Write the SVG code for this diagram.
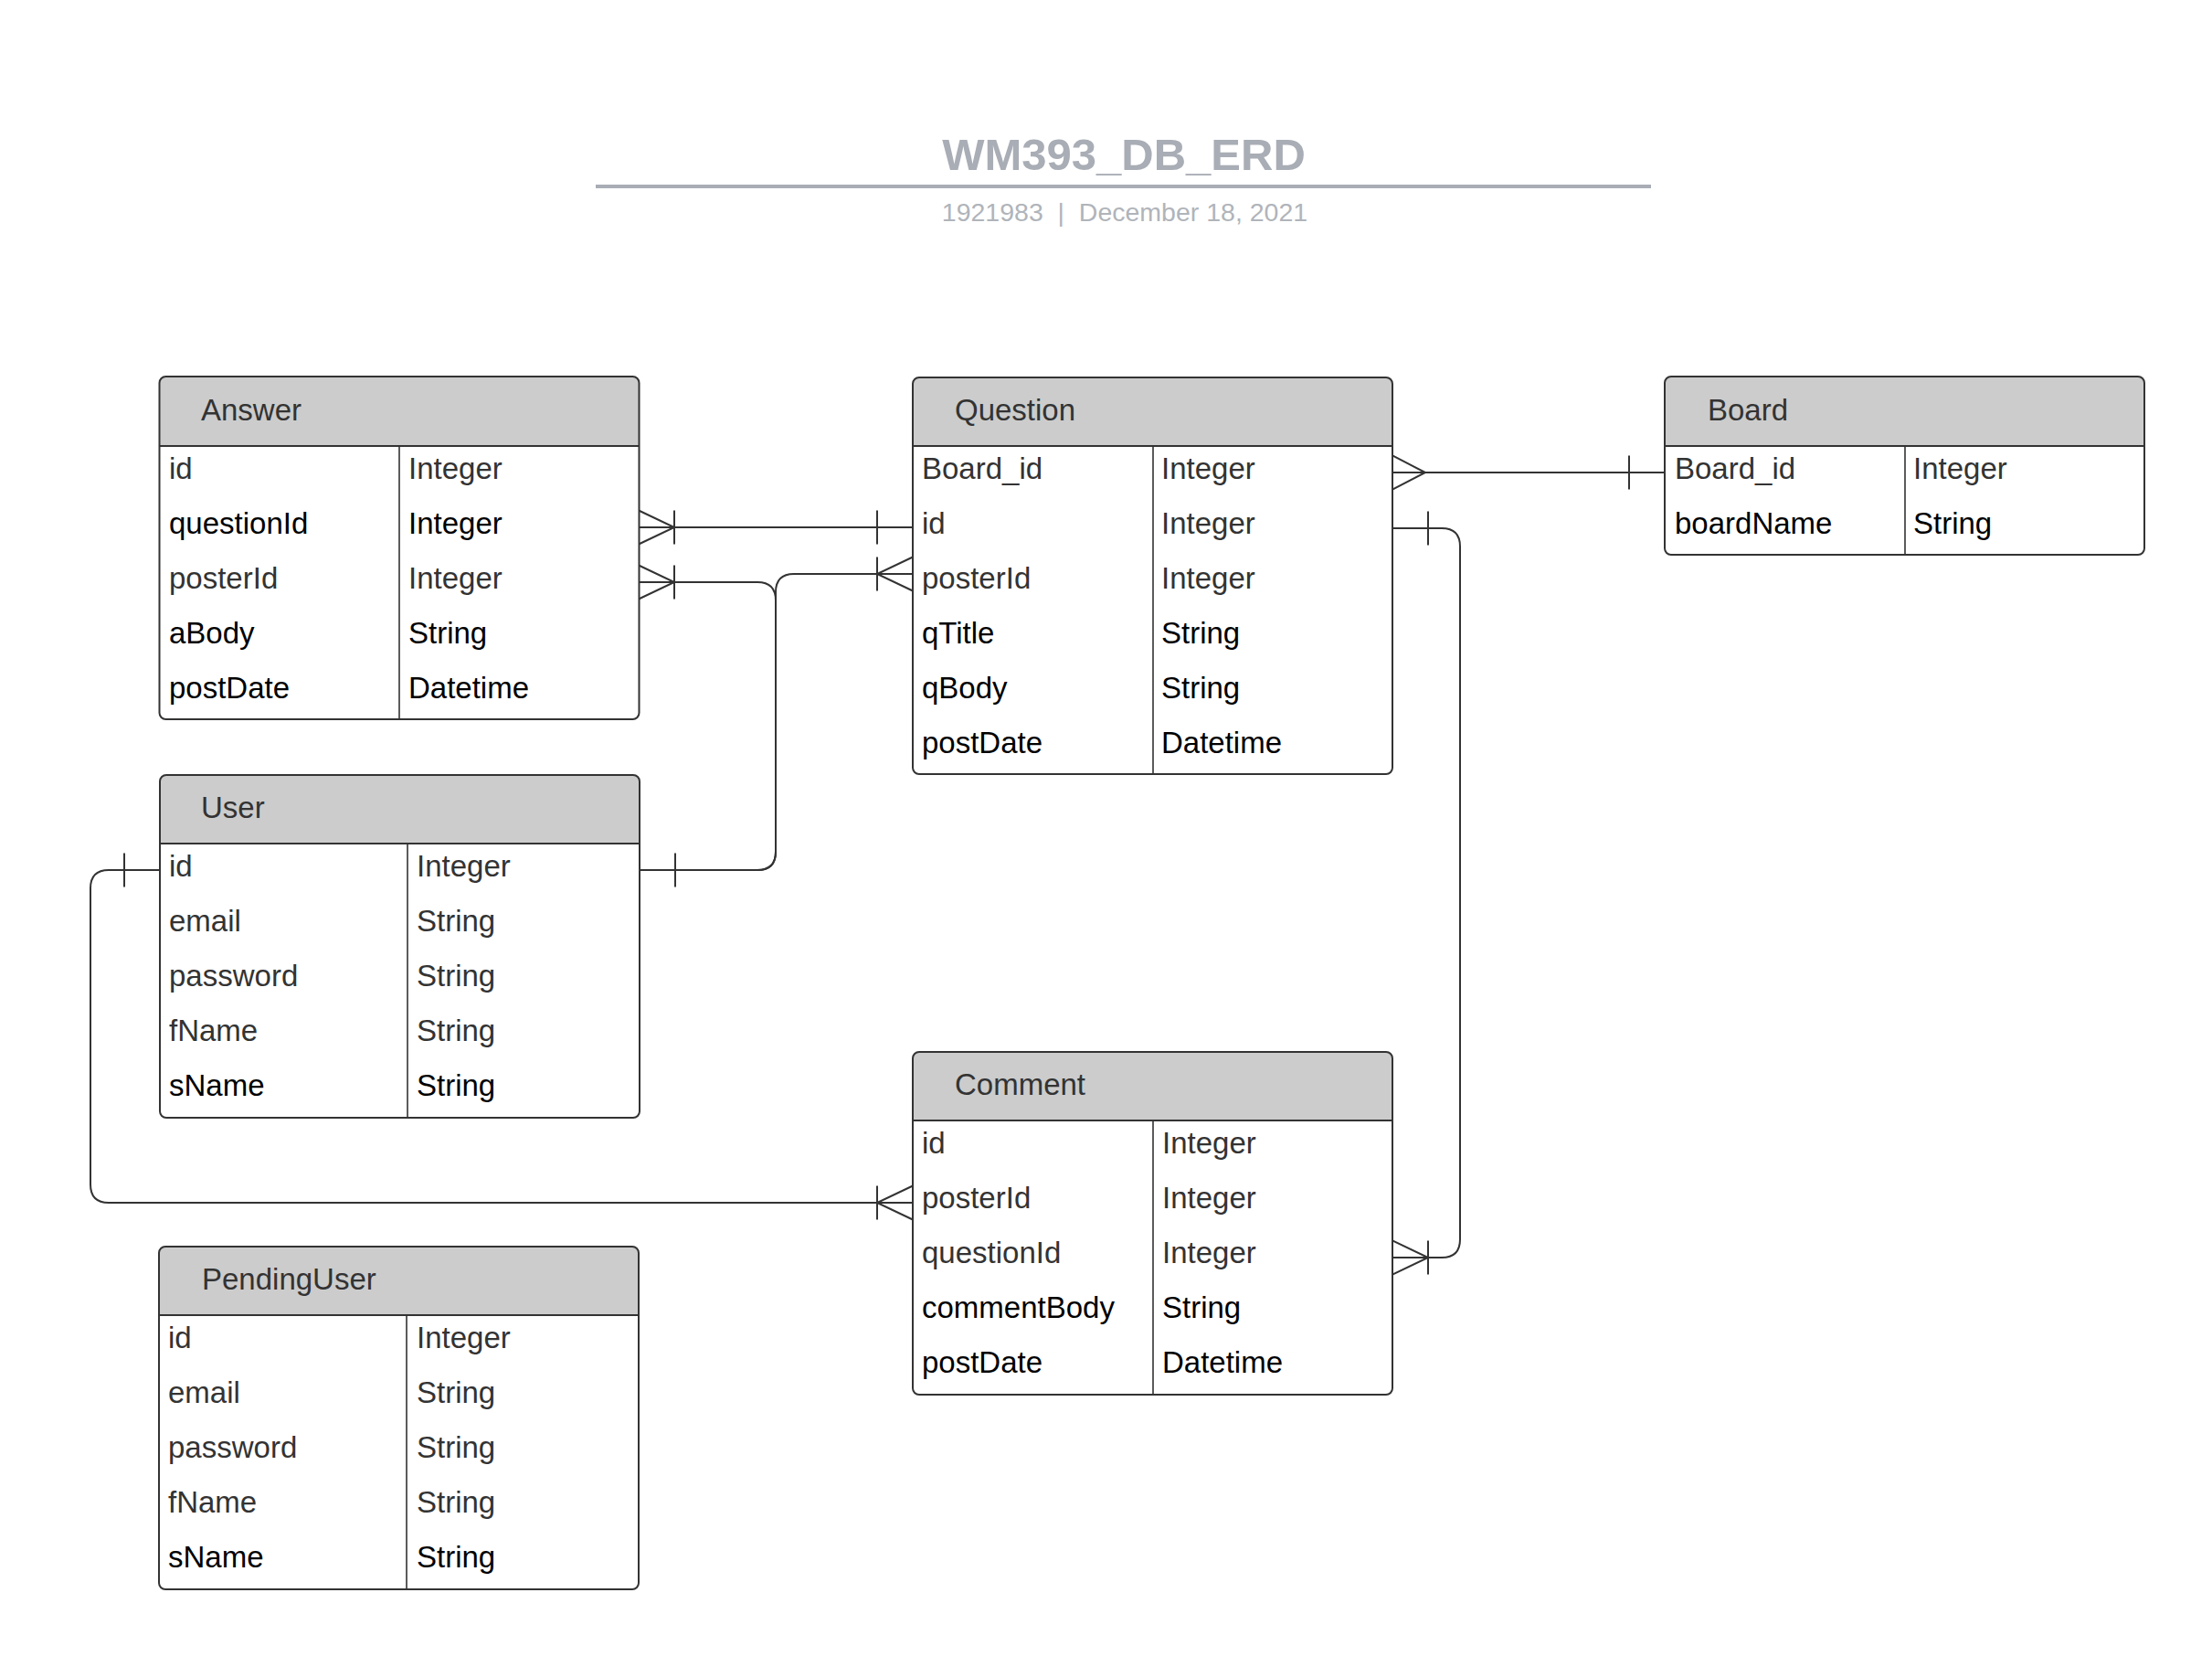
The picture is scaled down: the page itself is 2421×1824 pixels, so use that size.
<svg xmlns="http://www.w3.org/2000/svg" width="2421" height="1824" viewBox="0 0 2421 1824">
<style>
.t{font-family:"Liberation Sans",Arial,sans-serif;font-size:33px;fill:#333}
.k{fill:#000}
.hd{font-family:"Liberation Sans",Arial,sans-serif;font-size:33px;fill:#333}
.box{fill:none;stroke:#333;stroke-width:2}
.bg{fill:#fff}
.hf{fill:#cccccc}
.ln{stroke:#333;stroke-width:2}
.dv{stroke:#333;stroke-width:1.6}
.con{fill:none;stroke:#333;stroke-width:2}
.mk{fill:none;stroke:#333;stroke-width:2}
</style>
<defs>
<marker id="one" markerUnits="userSpaceOnUse" markerWidth="80" markerHeight="60" viewBox="-60 -30 80 60" refX="0" refY="0" orient="auto-start-reverse" overflow="visible">
<path class="mk" d="M -39 -18.5 V 18.5"/>
</marker>
<marker id="crowBar" markerUnits="userSpaceOnUse" markerWidth="80" markerHeight="60" viewBox="-60 -30 80 60" refX="0" refY="0" orient="auto-start-reverse" overflow="visible">
<path class="mk" d="M 0 -18.5 L -39 0 L 0 18.5 M -39 -18.5 V 18.5"/>
</marker>
<marker id="crow" markerUnits="userSpaceOnUse" markerWidth="80" markerHeight="60" viewBox="-60 -30 80 60" refX="0" refY="0" orient="auto-start-reverse" overflow="visible">
<path class="mk" d="M 0 -18.5 L -36 0 L 0 18.5"/>
</marker>
</defs>
<rect width="2421" height="1824" fill="#fff"/>

<g id="title">
<text x="1230" y="186" text-anchor="middle" font-family="Liberation Sans, Arial, sans-serif" font-size="49" font-weight="bold" fill="#a9adb5">WM393_DB_ERD</text>
<line x1="652" y1="204" x2="1807" y2="204" stroke="#a9adb5" stroke-width="4"/>
<text x="1231" y="242" text-anchor="middle" font-family="Liberation Sans, Arial, sans-serif" font-size="28.5" fill="#b0b4ba" xml:space="preserve">1921983  |  December 18, 2021</text>
</g>

<g id="connectors">
<path class="con" d="M 999 577 H 699" marker-start="url(#one)" marker-end="url(#crowBar)"/>
<path class="con" d="M 700 952 H 829 Q 849 952 849 932 V 657 Q 849 637 829 637 H 699" marker-start="url(#one)" marker-end="url(#crowBar)"/>
<path class="con" d="M 700 952 H 829 Q 849 952 849 932 V 648 Q 849 628 869 628 H 999" marker-end="url(#crowBar)"/>
<path class="con" d="M 175 952 H 119 Q 99 952 99 972 V 1296 Q 99 1316 119 1316 H 999" marker-start="url(#one)" marker-end="url(#crowBar)"/>
<path class="con" d="M 1524 578 H 1578 Q 1598 578 1598 598 V 1356 Q 1598 1376 1578 1376 H 1524" marker-start="url(#one)" marker-end="url(#crowBar)"/>
<path class="con" d="M 1822 517 H 1524" marker-start="url(#one)" marker-end="url(#crow)"/>
</g>

<g id="Answer">
<rect class="bg" x="174.5" y="412" width="525" height="375" rx="7"/>
<path class="hf" d="M 174.5 488 V 419 Q 174.5 412 181.5 412 H 692.5 Q 699.5 412 699.5 419 V 488 Z"/>
<line class="ln" x1="174.5" y1="488" x2="699.5" y2="488"/>
<line class="dv" x1="437" y1="488" x2="437" y2="787"/>
<rect class="box" x="174.5" y="412" width="525" height="375" rx="7"/>
<text class="hd" x="220" y="460">Answer</text>
<text class="t" x="185" y="524">id</text><text class="t" x="447" y="524">Integer</text>
<text class="t k" x="185" y="584">questionId</text><text class="t k" x="447" y="584">Integer</text>
<text class="t" x="185" y="644">posterId</text><text class="t" x="447" y="644">Integer</text>
<text class="t k" x="185" y="704">aBody</text><text class="t k" x="447" y="704">String</text>
<text class="t k" x="185" y="764">postDate</text><text class="t k" x="447" y="764">Datetime</text>
</g>

<g id="Question">
<rect class="bg" x="999" y="413" width="525" height="434" rx="7"/>
<path class="hf" d="M 999 488 V 420 Q 999 413 1006 413 H 1517 Q 1524 413 1524 420 V 488 Z"/>
<line class="ln" x1="999" y1="488" x2="1524" y2="488"/>
<line class="dv" x1="1262" y1="488" x2="1262" y2="847"/>
<rect class="box" x="999" y="413" width="525" height="434" rx="7"/>
<text class="hd" x="1045" y="460">Question</text>
<text class="t" x="1009" y="524">Board_id</text><text class="t" x="1271" y="524">Integer</text>
<text class="t" x="1009" y="584">id</text><text class="t" x="1271" y="584">Integer</text>
<text class="t" x="1009" y="644">posterId</text><text class="t" x="1271" y="644">Integer</text>
<text class="t k" x="1009" y="704">qTitle</text><text class="t k" x="1271" y="704">String</text>
<text class="t k" x="1009" y="764">qBody</text><text class="t k" x="1271" y="764">String</text>
<text class="t k" x="1009" y="824">postDate</text><text class="t k" x="1271" y="824">Datetime</text>
</g>

<g id="Board">
<rect class="bg" x="1822" y="412" width="525" height="195" rx="7"/>
<path class="hf" d="M 1822 488 V 419 Q 1822 412 1829 412 H 2340 Q 2347 412 2347 419 V 488 Z"/>
<line class="ln" x1="1822" y1="488" x2="2347" y2="488"/>
<line class="dv" x1="2085" y1="488" x2="2085" y2="607"/>
<rect class="box" x="1822" y="412" width="525" height="195" rx="7"/>
<text class="hd" x="1869" y="460">Board</text>
<text class="t" x="1833" y="524">Board_id</text><text class="t" x="2094" y="524">Integer</text>
<text class="t k" x="1833" y="584">boardName</text><text class="t k" x="2094" y="584">String</text>
</g>

<g id="User">
<rect class="bg" x="175" y="848" width="525" height="375" rx="7"/>
<path class="hf" d="M 175 923 V 855 Q 175 848 182 848 H 693 Q 700 848 700 855 V 923 Z"/>
<line class="ln" x1="175" y1="923" x2="700" y2="923"/>
<line class="dv" x1="446" y1="923" x2="446" y2="1223"/>
<rect class="box" x="175" y="848" width="525" height="375" rx="7"/>
<text class="hd" x="220" y="895">User</text>
<text class="t" x="185" y="959">id</text><text class="t" x="456" y="959">Integer</text>
<text class="t" x="185" y="1019">email</text><text class="t" x="456" y="1019">String</text>
<text class="t" x="185" y="1079">password</text><text class="t" x="456" y="1079">String</text>
<text class="t" x="185" y="1139">fName</text><text class="t" x="456" y="1139">String</text>
<text class="t k" x="185" y="1199">sName</text><text class="t k" x="456" y="1199">String</text>
</g>

<g id="PendingUser">
<rect class="bg" x="174" y="1364" width="525" height="375" rx="7"/>
<path class="hf" d="M 174 1439 V 1371 Q 174 1364 181 1364 H 692 Q 699 1364 699 1371 V 1439 Z"/>
<line class="ln" x1="174" y1="1439" x2="699" y2="1439"/>
<line class="dv" x1="445" y1="1439" x2="445" y2="1739"/>
<rect class="box" x="174" y="1364" width="525" height="375" rx="7"/>
<text class="hd" x="221" y="1411">PendingUser</text>
<text class="t" x="184" y="1475">id</text><text class="t" x="456" y="1475">Integer</text>
<text class="t" x="184" y="1535">email</text><text class="t" x="456" y="1535">String</text>
<text class="t" x="184" y="1595">password</text><text class="t" x="456" y="1595">String</text>
<text class="t" x="184" y="1655">fName</text><text class="t" x="456" y="1655">String</text>
<text class="t k" x="184" y="1715">sName</text><text class="t k" x="456" y="1715">String</text>
</g>

<g id="Comment">
<rect class="bg" x="999" y="1151" width="525" height="375" rx="7"/>
<path class="hf" d="M 999 1226 V 1158 Q 999 1151 1006 1151 H 1517 Q 1524 1151 1524 1158 V 1226 Z"/>
<line class="ln" x1="999" y1="1226" x2="1524" y2="1226"/>
<line class="dv" x1="1262" y1="1226" x2="1262" y2="1526"/>
<rect class="box" x="999" y="1151" width="525" height="375" rx="7"/>
<text class="hd" x="1045" y="1198">Comment</text>
<text class="t" x="1009" y="1262">id</text><text class="t" x="1272" y="1262">Integer</text>
<text class="t" x="1009" y="1322">posterId</text><text class="t" x="1272" y="1322">Integer</text>
<text class="t" x="1009" y="1382">questionId</text><text class="t" x="1272" y="1382">Integer</text>
<text class="t k" x="1009" y="1442">commentBody</text><text class="t k" x="1272" y="1442">String</text>
<text class="t k" x="1009" y="1502">postDate</text><text class="t k" x="1272" y="1502">Datetime</text>
</g>
</svg>
